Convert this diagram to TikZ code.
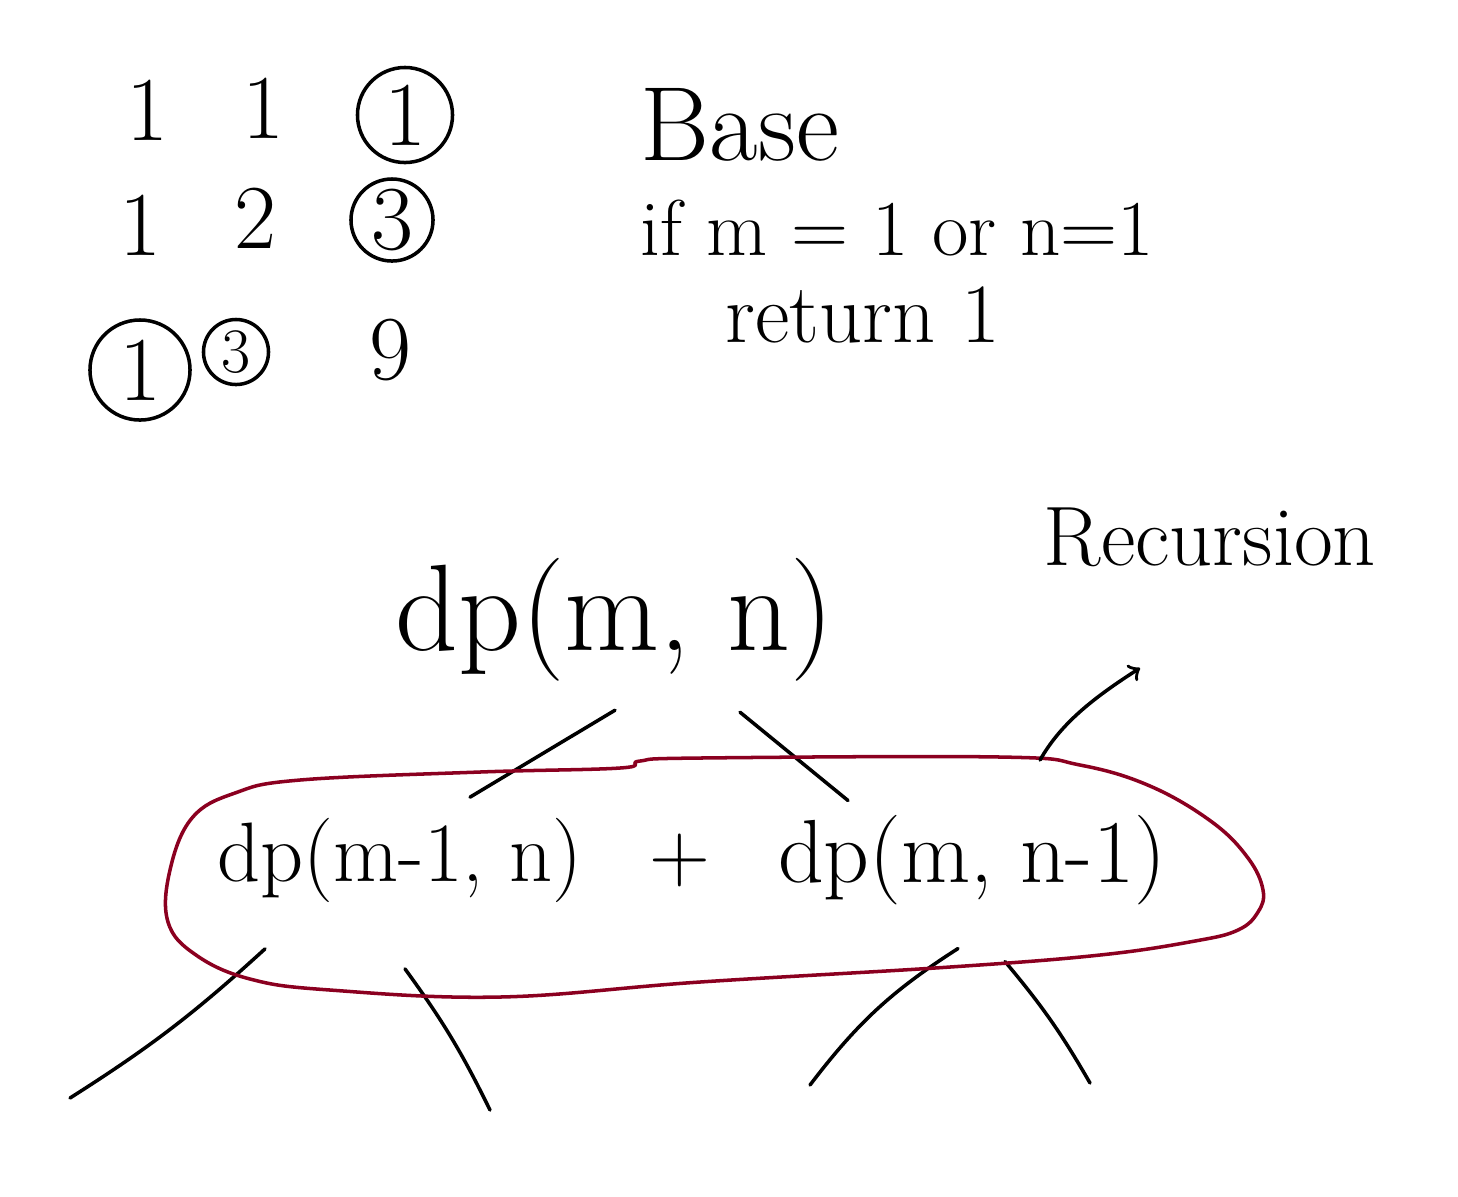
\documentclass[tikz,border=0pt]{standalone}
\usepackage{fontspec}
\usetikzlibrary{calc}
\definecolor{penred}{RGB}{139,0,32}
\tikzset{
  ink/.style={line width=1pt, line cap=round, line join=round},
  digit/.style={inner sep=0pt, font=\fontsize{26}{28}\selectfont},
  ringed/.style={digit, draw, ink, circle, minimum size=#1},
  note/.style={inner sep=0pt, font=\fontsize{24}{28}\selectfont},
  call/.style={inner sep=0pt, font=\fontsize{24}{28}\selectfont},
}
\begin{document}
\begin{tikzpicture}[x=0.01cm, y=-0.01cm]
    \useasboundingbox (0,0) rectangle (1458,1196);

    % Table of path counts
    \node[digit] (c11) at (147,110) {1};
    \node[digit] (c12) at (263,108) {1};
    \node[ringed=0.95cm] (c13) at (405,115) {1};
    \node[digit] (c21) at (140,225) {1};
    \node[digit] (c22) at (255,218) {2};
    \node[ringed=0.82cm] (c23) at (392,220) {3};
    \node[ringed=1cm] (c31) at (140,370) {1};
    \node[ringed=0.65cm, font=\fontsize{18}{20}\selectfont] (c32) at (236,352) {3};
    \node[digit] (c33) at (390,350) {9};

    % Base case
    \node[note, font=\fontsize{30}{32}\selectfont] (base) at (740,125) {Base};
    \node[note, anchor=west, font=\fontsize{22.5}{26}\selectfont] (cond) at (640,228) {if m = 1 or n=1};
    \node[note, anchor=west] (ret) at (725,315) {return 1};

    % Recursion tree
    \node[note] (rec) at (1210,537) {Recursion};
    \node[call, font=\fontsize{35}{38}\selectfont] (top) at (615,620) {dp(m, n)};
    \node[call] (lcall) at (400,860) {dp(m-1, n)};
    \node[call] (plus) at (680,860) {+};
    \node[call, font=\fontsize{25.5}{28}\selectfont] (rcall) at (972,860) {dp(m, n-1)};

    \draw[ink] ($(top.south)+(0,28)$) -- ($(lcall.north)+(70,-20)$);
    \draw[ink] ($(top.south)+(125,30)$) -- ($(rcall.north)+(-124,-14)$);

    % Leaves running off the page
    \coordinate (l1) at (70,1098);
    \coordinate (l2) at (490,1110);
    \coordinate (l3) at (810,1085);
    \coordinate (l4) at (1090,1083);
    \draw[ink] ($(lcall.south)+(-135,46)$) to[bend left=5] (l1);
    \draw[ink] ($(lcall.south)+(5,66)$) to[bend left=5] (l2);
    \draw[ink] ($(rcall.south)+(-14,43)$) to[bend right=10] (l3);
    \draw[ink] ($(rcall.south)+(33,56)$) to[bend left=5] (l4);

    % Loop round the two calls
    \draw[ink, penred] plot[smooth cycle, tension=0.65] coordinates {(192,818) (235,793) (300,780) (480,772) (620,768) (640,761) (700,758) (1000,757) (1080,765) (1150,786) (1212,822) (1248,858) (1263,890) (1258,912) (1238,930) (1195,941) (1100,955) (950,967) (700,982) (500,997) (330,990) (250,979) (196,955) (168,922) (170,870)};

    \coordinate (loop) at (1040,760);
    \coordinate (tip) at (1140,668);
    \draw[ink, ->] (loop) .. controls (1060,725) and (1090,700) .. (tip);
\end{tikzpicture}
\end{document}
